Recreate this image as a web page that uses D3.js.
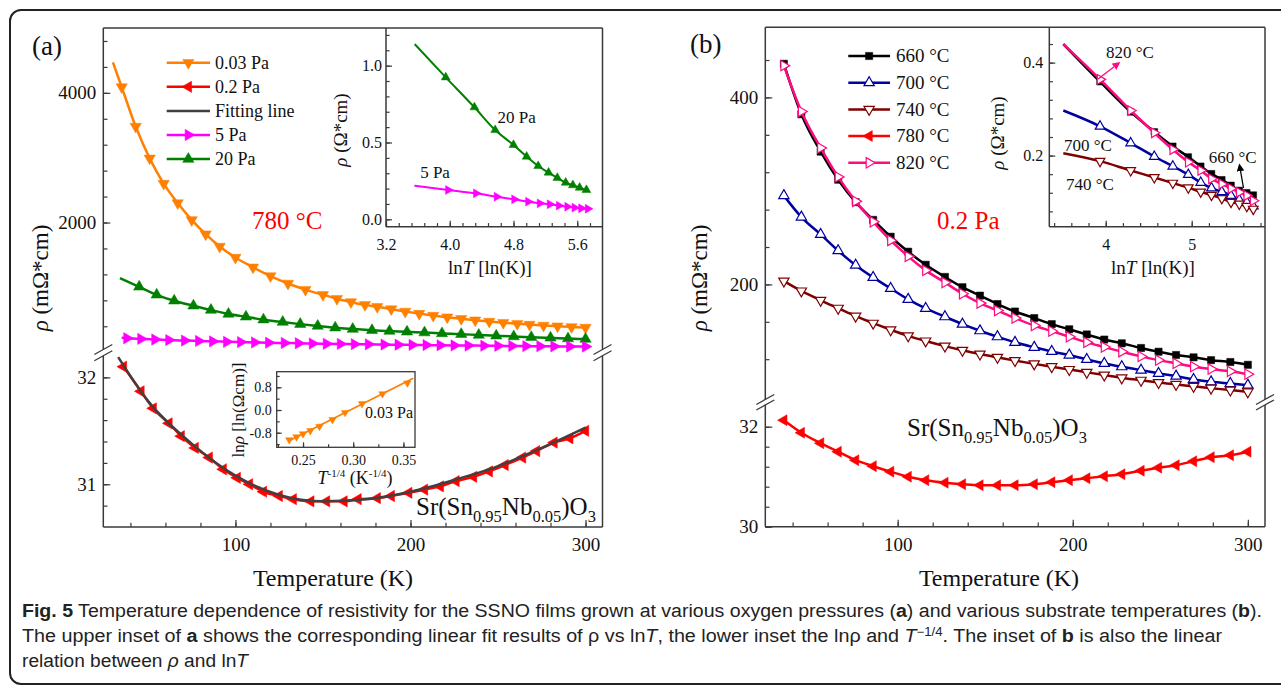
<!DOCTYPE html>
<html>
<head>
<meta charset="utf-8">
<style>
  body { margin: 0; background: #fff; }
  svg text { font-family: "Liberation Serif", "Times New Roman", serif; fill: #111; }
  svg text.cap { font-family: "Liberation Sans Narrow", "Liberation Sans", "Roboto", sans-serif; font-stretch: condensed; fill: #222; }
</style>
<script src="https://cdn.jsdelivr.net/npm/d3@7"></script>
</head>
<body>
<script>
// ---------- panel (a): rho (mOhm*cm) vs T (K) at various O2 pressures ----------
// first point of 0.03 / 5 / 20 Pa is where the line starts (no symbol there)
const tA003 = [30, 35, 43, 51, 59, 67, 75, 83, 91, 100, 110, 120, 130, 140, 150, 158, 166, 174, 181, 189, 197, 205, 213, 221, 229, 237, 245, 253, 261, 268, 276, 284, 292, 300];
const rhoA003 = [4470, 4090, 3480, 2990, 2600, 2300, 2040, 1820, 1630, 1460, 1310, 1175, 1060, 965, 885, 825, 775, 730, 700, 665, 628, 595, 565, 540, 515, 493, 473, 455, 440, 426, 413, 401, 390, 380];
const tA02 = [36, 46, 53, 62, 69, 77, 85, 93, 101, 108, 116, 125, 133, 143, 152, 162, 170, 181, 189, 199, 208, 217, 226, 236, 245, 254, 264, 272, 282, 291, 300];
const rhoA02 = [32.10, 31.87, 31.71, 31.57, 31.45, 31.34, 31.25, 31.14, 31.06, 31.00, 30.93, 30.89, 30.86, 30.84, 30.84, 30.84, 30.86, 30.87, 30.89, 30.92, 30.95, 30.98, 31.03, 31.07, 31.12, 31.18, 31.25, 31.31, 31.39, 31.43, 31.50];
const tFit = [33, 50, 75, 100, 125, 150, 175, 200, 225, 250, 275, 300];
const rhoFit = [32.19, 31.78, 31.38, 31.08, 30.90, 30.84, 30.86, 30.93, 31.04, 31.17, 31.34, 31.53];
const tA5 = [35, 38, 46, 54, 62, 71, 79, 87, 95, 103, 111, 119, 128, 136, 144, 152, 160, 168, 176, 185, 193, 201, 209, 217, 225, 233, 242, 250, 258, 266, 274, 282, 291, 300];
const rhoA5 = [222, 215, 205, 196, 188, 180, 173, 167, 161, 156, 151, 146, 142, 138, 134, 130, 127, 124, 121, 118, 115, 112, 110, 107, 105, 103, 100, 98, 96, 94, 92, 90, 88, 86];
const tA20 = [34, 45, 55, 65, 76, 86, 96, 106, 116, 127, 137, 147, 157, 167, 178, 188, 198, 208, 218, 229, 239, 249, 259, 269, 280, 290, 300];
const rhoA20 = [1143, 1008, 885, 793, 716, 650, 590, 546, 502, 465, 433, 404, 378, 356, 338, 326, 314, 302, 290, 278, 265, 253, 242, 232, 221, 211, 202];

// upper inset of (a): rho (Ohm*cm) vs lnT
const lnTa20 = [3.56, 3.95, 4.31, 4.57, 4.80, 4.965, 5.11, 5.24, 5.35, 5.455, 5.545, 5.63, 5.715];
const rhoIa20 = [1.14, 0.924, 0.729, 0.581, 0.484, 0.408, 0.347, 0.304, 0.270, 0.239, 0.222, 0.206, 0.191];
const lnTa5 = [3.556, 3.98, 4.33, 4.59, 4.81, 4.985, 5.13, 5.256, 5.37, 5.476, 5.567, 5.65, 5.733];
const rhoIa5 = [0.219, 0.191, 0.169, 0.147, 0.130, 0.115, 0.104, 0.098, 0.089, 0.082, 0.076, 0.072, 0.069];

// lower inset of (a): ln(rho) vs T^-1/4, 0.03 Pa
const invT = [0.2363, 0.2435, 0.25, 0.2573, 0.2664, 0.2794, 0.2919, 0.3088, 0.3291, 0.3539];
const lnRho = [-1.05, -0.95, -0.84, -0.73, -0.58, -0.34, -0.09, 0.22, 0.57, 0.95];
const invTFit = [0.2353, 0.3598];
const lnRhoFit = [-1.10, 1.12];

// ---------- panel (b): rho vs T at various substrate temperatures, 0.2 Pa ----------
const tB = [35, 45, 56, 66, 76, 86, 96, 106, 116, 127, 137, 147, 157, 167, 178, 188, 198, 208, 218, 228, 239, 249, 259, 269, 279, 290, 300];
const rho660 = [436, 382, 342, 312, 288, 269, 251, 235, 221, 208, 197, 188, 179, 171, 164, 157.5, 152, 146.5, 141, 137, 132, 128, 124.5, 122, 119, 117, 114];
const rho700 = [295, 272, 253.5, 236, 220.6, 207.5, 195.7, 184, 174.3, 165.4, 157.5, 150.4, 144, 138, 132.7, 128.3, 124.4, 119.8, 115.5, 111.9, 108.3, 104.8, 101.9, 98.4, 95.8, 94, 92.3];
const rho740 = [203.6, 193, 183, 174.5, 166, 158.5, 151.5, 145, 139.5, 134, 129.5, 125.5, 122, 118.5, 115, 112, 109, 106, 103, 100, 97.5, 95, 93, 91, 89, 87, 85];
const rho780 = [32.13, 31.88, 31.67, 31.50, 31.33, 31.21, 31.10, 31.00, 30.93, 30.88, 30.85, 30.83, 30.83, 30.83, 30.85, 30.89, 30.93, 30.97, 31.01, 31.05, 31.12, 31.18, 31.23, 31.31, 31.39, 31.43, 31.50];
const rho820 = [434, 385, 346, 315, 289, 267, 247, 230, 215, 202, 190, 180, 172, 164, 156, 150, 144, 138, 133, 128, 123, 119, 115.5, 112, 109.5, 107, 104];

// inset of (b): rho (Ohm*cm) vs lnT, first point = line start
const lnTb = [3.507, 3.934, 4.29, 4.565, 4.78, 4.96, 5.105, 5.23, 5.35, 5.457, 5.553, 5.64, 5.716];
const rhoIb660 = [0.440, 0.359, 0.294, 0.251, 0.220, 0.197, 0.177, 0.161, 0.148, 0.136, 0.125, 0.120, 0.115];
const rhoIb700 = [0.297, 0.263, 0.227, 0.198, 0.177, 0.159, 0.142, 0.130, 0.122, 0.114, 0.105, 0.100, 0.091];
const rhoIb740 = [0.205, 0.188, 0.168, 0.153, 0.141, 0.131, 0.122, 0.115, 0.108, 0.100, 0.096, 0.091, 0.085];
const rhoIb820 = [0.440, 0.364, 0.297, 0.249, 0.213, 0.186, 0.168, 0.150, 0.139, 0.129, 0.121, 0.114, 0.103];

// tick labels
const tickX = [100, 200, 300];
const tickAup = [2000, 4000], tickAlo = [31, 32];
const tickBup = [200, 400], tickBlo = [30, 32];
const tickIAx = [3.2, 4.0, 4.8, 5.6], tickIAy = [0.0, 0.5, 1.0];
const tickIA2x = [0.25, 0.30, 0.35], tickIA2y = [-0.8, 0.0, 0.8];
const tickIBx = [4, 5], tickIBy = [0.2, 0.4];

const C = { orange: "#ff8000", red: "#ff0000", fit: "#404040", magenta: "#ff00ff", green: "#008000",
            black: "#000000", blue: "#0000a0", brown: "#800000", pink: "#ff0a80" };
const ink = "#3a3a3a";

const svg = d3.select("body").append("svg").attr("width", 1281).attr("height", 687);

// outer figure frame
svg.append("rect").attr("x", 10).attr("y", 10).attr("width", 1300).attr("height", 674).attr("rx", 11)
    .attr("fill", "none").attr("stroke", "#222").attr("stroke-width", 2);

const defs = svg.append("defs");
function arrowDef(id, color) {
    defs.append("marker").attr("id", id).attr("viewBox", "0 0 10 10").attr("refX", 8).attr("refY", 5)
        .attr("markerWidth", 6).attr("markerHeight", 6).attr("orient", "auto")
        .append("path").attr("d", "M0,0 L10,5 L0,10 z").attr("fill", color);
}
arrowDef("arPink", C.pink);
arrowDef("arBlack", "#000");

// ---------- helpers ----------
const shapes = {
    up: [d3.symbolTriangle, 0], down: [d3.symbolTriangle, 180],
    left: [d3.symbolTriangle, -90], right: [d3.symbolTriangle, 90],
    square: [d3.symbolSquare, 0]
};
function drawMarks(g, pts, s) {
    const [type, rot] = shapes[s.shape];
    g.selectAll(null).data(pts).enter().append("path")
        .attr("d", d3.symbol().type(type).size(s.size))
        .attr("transform", d => `translate(${d[0]},${d[1]}) rotate(${rot})`)
        .attr("fill", s.open ? "#fff" : s.color)
        .attr("stroke", s.color).attr("stroke-width", s.open ? 1.2 : 0.5);
}
function drawSeries(g, xs, ys, sx, sy, s) {
    const pts = xs.map((v, i) => [sx(v), sy(ys[i])]);
    g.append("path").attr("d", d3.line().curve(d3.curveMonotoneX)(pts))
        .attr("fill", "none").attr("stroke", s.color).attr("stroke-width", s.width || 2.5)
        .attr("stroke-linejoin", "round");
    if (s.shape) drawMarks(g, pts.slice(s.skip || 0), s);
}
function line(g, x1, y1, x2, y2, w) {
    g.append("line").attr("x1", x1).attr("y1", y1).attr("x2", x2).attr("y2", y2)
        .attr("stroke", ink).attr("stroke-width", w || 1.5);
}
function styleAxis(sel, fs) {
    sel.select(".domain").remove();
    sel.selectAll(".tick line").attr("stroke", ink).attr("stroke-width", 1.2);
    sel.selectAll(".tick text").style("font-size", fs + "px");
}
function yTicks(g, sc, x, major, minor, fmt, fs, pad, len) {
    g.append("g").attr("transform", `translate(${x},0)`)
        .call(d3.axisLeft(sc).tickValues(minor).tickSize(-len * 0.6).tickFormat(""))
        .call(s => styleAxis(s, fs));
    g.append("g").attr("transform", `translate(${x},0)`)
        .call(d3.axisLeft(sc).tickValues(major).tickSize(-len).tickPadding(pad).tickFormat(fmt))
        .call(s => styleAxis(s, fs));
}
function xTicks(g, sc, y, major, minor, fmt, fs, pad, len) {
    g.append("g").attr("transform", `translate(0,${y})`)
        .call(d3.axisBottom(sc).tickValues(minor).tickSize(-len * 0.6).tickFormat(""))
        .call(s => styleAxis(s, fs));
    g.append("g").attr("transform", `translate(0,${y})`)
        .call(d3.axisBottom(sc).tickValues(major).tickSize(-len).tickPadding(pad).tickFormat(fmt))
        .call(s => styleAxis(s, fs));
}
function slash(g, x, y) {
    g.append("line").attr("x1", x - 9).attr("y1", y + 5).attr("x2", x + 9).attr("y2", y - 5)
        .attr("stroke", ink).attr("stroke-width", 1.3);
}
function text(g, x, y, str, fs, opt) {
    opt = opt || {};
    return g.append("text").attr("x", x).attr("y", y).text(str)
        .style("font-size", fs + "px").attr("text-anchor", opt.anchor || "start")
        .style("fill", opt.color || "#111");
}
function rhoLabel(g, x, y, unit, fs) {
    const t = g.append("text").attr("transform", `translate(${x},${y}) rotate(-90)`)
        .attr("text-anchor", "middle").style("font-size", fs + "px");
    t.append("tspan").style("font-style", "italic").text("ρ");
    t.append("tspan").text(" (" + unit + ")");
}
function lnTLabel(g, x, y, fs) {
    const t = g.append("text").attr("x", x).attr("y", y).attr("text-anchor", "middle").style("font-size", fs + "px");
    t.append("tspan").text("ln");
    t.append("tspan").style("font-style", "italic").text("T");
    t.append("tspan").text(" [ln(K)]");
}
function formula(g, x, y, fs) {
    const t = g.append("text").attr("x", x).attr("y", y).style("font-size", fs + "px");
    const sh = fs * 0.28;
    let down = false;
    [["Sr(Sn", 0], ["0.95", 1], ["Nb", 0], ["0.05", 1], [")O", 0], ["3", 1]].forEach(([s, sub]) => {
        const ts = t.append("tspan").text(s);
        if (sub) { ts.attr("dy", sh).style("font-size", (fs * 0.66) + "px"); down = true; }
        else if (down) { ts.attr("dy", -sh); down = false; }
    });
}
function legend(g, items, x0, x1, xt, y0, dy, fs) {
    items.forEach((it, i) => {
        const y = y0 + i * dy;
        g.append("line").attr("x1", x0).attr("x2", x1).attr("y1", y).attr("y2", y)
            .attr("stroke", it.color).attr("stroke-width", 2.5);
        if (it.shape) drawMarks(g, [[(x0 + x1) / 2, y]], it);
        text(g, xt, y + fs * 0.33, it.label, fs);
    });
}
const f0 = d => d3.format("d")(d);
const f1 = d => d.toFixed(1);
const f2 = d => d.toFixed(2);

// ================= panel (a) =================
const gA = svg.append("g");
const xA = d3.scaleLinear().domain([24.5, 309.7]).range([103.3, 602.5]);
const yAup = d3.scaleLinear().domain([0, 5000]).range([352.2, 28]);
const yAlo = d3.scaleLinear().domain([30.6, 32.2]).range([527, 356]);
const A = { l: 103.3, r: 602.5, t: 28, b: 527, b1: 349.5, b2: 355.7 };

// frame
line(gA, A.l, A.t, A.r, A.t);
line(gA, A.l, A.b, A.r, A.b);
line(gA, A.l, A.t, A.l, A.b1); line(gA, A.l, A.b2, A.l, A.b);
line(gA, A.r, A.t, A.r, A.b1); line(gA, A.r, A.b2, A.r, A.b);
[A.l, A.r].forEach(x => { slash(gA, x, A.b1); slash(gA, x, A.b2); });

yTicks(gA, yAup, A.l, tickAup, d3.range(400, 5000, 400), f0, 19, 7, 7);
yTicks(gA, yAlo, A.l, tickAlo, d3.range(30.8, 32.1, 0.2), f0, 19, 7, 7);
xTicks(gA, xA, A.b, tickX, d3.range(40, 301, 20), f0, 19, 10.5, 7);

// inset upper-right (rho vs lnT)
const xIa = d3.scaleLinear().domain([3.2, 5.917]).range([386, 602.5]);
const yIa = d3.scaleLinear().domain([-0.048, 1.245]).range([226.7, 28]);
line(gA, 386, 28, 386, 226.7);
line(gA, 386, 226.7, 602.5, 226.7);
yTicks(gA, yIa, 386, tickIAy, d3.range(0, 1.21, 0.1), f1, 16, 4, 6);
xTicks(gA, xIa, 226.7, tickIAx, d3.range(3.2, 5.9, 0.16), f1, 16, 12, 6);

// main curves (a)
drawSeries(gA, tA003, rhoA003, xA, yAup, { color: C.orange, shape: "down", size: 55, skip: 1 });
drawSeries(gA, tA20, rhoA20, xA, yAup, { color: C.green, shape: "up", size: 55, skip: 1 });
drawSeries(gA, tA5, rhoA5, xA, yAup, { color: C.magenta, shape: "right", size: 55, skip: 1 });
drawSeries(gA, tA02, rhoA02, xA, yAlo, { color: C.red, shape: "left", size: 55 });
drawSeries(gA, tFit, rhoFit, xA, yAlo, { color: C.fit, width: 2.5 });

// inset curves
drawSeries(gA, lnTa20, rhoIa20, xIa, yIa, { color: C.green, shape: "up", size: 34, skip: 1, width: 2 });
drawSeries(gA, lnTa5, rhoIa5, xIa, yIa, { color: C.magenta, shape: "right", size: 34, skip: 1, width: 2 });
text(gA, 516.7, 122.5, "20 Pa", 17, { anchor: "middle" });
text(gA, 435, 177.5, "5 Pa", 17, { anchor: "middle" });
rhoLabel(gA, 347, 130, "Ω*cm", 19);
lnTLabel(gA, 490, 274, 19);

// inset lower (ln rho vs T^-1/4)
const xIa2 = d3.scaleLinear().domain([0.2238, 0.3615]).range([276.7, 415]);
const yIa2 = d3.scaleLinear().domain([-1.314, 1.35]).range([447.3, 371.7]);
gA.append("rect").attr("x", 276.7).attr("y", 371.7).attr("width", 138.3).attr("height", 75.6)
    .attr("fill", "none").attr("stroke", ink).attr("stroke-width", 1.3);
yTicks(gA, yIa2, 276.7, tickIA2y, d3.range(-1.2, 1.3, 0.4), f1, 14, 5, 5);
xTicks(gA, xIa2, 447.3, tickIA2x, d3.range(0.225, 0.36, 0.025), f2, 14, 7.8, 5);
drawSeries(gA, invTFit, lnRhoFit, xIa2, yIa2, { color: C.orange, width: 1.8 });
drawMarks(gA, invT.map((v, i) => [xIa2(v), yIa2(lnRho[i])]), { color: C.orange, shape: "down", size: 24 });
text(gA, 413, 418, "0.03 Pa", 16, { anchor: "end" });
{
    const t = gA.append("text").attr("transform", "translate(244,410) rotate(-90)")
        .attr("text-anchor", "middle").style("font-size", "17px");
    t.append("tspan").text("ln");
    t.append("tspan").style("font-style", "italic").text("ρ");
    t.append("tspan").text(" [ln(Ωcm)]");
    const u = gA.append("text").attr("x", 355).attr("y", 484).attr("text-anchor", "middle").style("font-size", "18px");
    u.append("tspan").style("font-style", "italic").text("T");
    u.append("tspan").attr("dy", -7).style("font-size", "11px").text("-1/4");
    u.append("tspan").attr("dy", 7).text(" (K");
    u.append("tspan").attr("dy", -7).style("font-size", "11px").text("-1/4");
    u.append("tspan").attr("dy", 7).text(")");
}

// legend (a)
legend(gA, [
    { label: "0.03 Pa", color: C.orange, shape: "down", size: 55 },
    { label: "0.2 Pa", color: C.red, shape: "left", size: 55 },
    { label: "Fitting line", color: C.fit },
    { label: "5 Pa", color: C.magenta, shape: "right", size: 55 },
    { label: "20 Pa", color: C.green, shape: "up", size: 55 }
], 166.7, 210, 215, 62.7, 24.1, 18);

text(gA, 252, 229, "780 °C", 25, { color: "#ff0000" });
formula(gA, 416, 515, 25);
text(gA, 32, 55, "(a)", 27);
rhoLabel(gA, 48, 278, "mΩ*cm", 23);
text(gA, 333, 586, "Temperature (K)", 24, { anchor: "middle" });

// ================= panel (b) =================
const gB = svg.append("g");
const xB = d3.scaleLinear().domain([24.4, 309.8]).range([765.3, 1265]);
const yBup = d3.scaleLinear().domain([80, 475]).range([396.6, 27.3]);
const yBlo = d3.scaleLinear().domain([30, 32.5]).range([526.7, 401.7]);
const B = { l: 765.3, r: 1265, t: 27.3, b: 526.7, b1: 399.5, b2: 405 };

line(gB, B.l, B.t, B.r, B.t);
line(gB, B.l, B.b, B.r, B.b);
line(gB, B.l, B.t, B.l, B.b1); line(gB, B.l, B.b2, B.l, B.b);
line(gB, B.r, B.t, B.r, B.b1); line(gB, B.r, B.b2, B.r, B.b);
[B.l, B.r].forEach(x => { slash(gB, x, B.b1); slash(gB, x, B.b2); });

yTicks(gB, yBup, B.l, tickBup, d3.range(120, 460, 40), f0, 19, 7, 7);
yTicks(gB, yBlo, B.l, tickBlo, d3.range(30, 32.1, 0.4), f0, 19, 7, 7);
xTicks(gB, xB, B.b, tickX, d3.range(40, 301, 20), f0, 19, 10.5, 7);

// inset (b)
const xIb = d3.scaleLinear().domain([3.344, 5.852]).range([1049.3, 1265]);
const yIb = d3.scaleLinear().domain([0.047, 0.476]).range([226.7, 27.3]);
line(gB, 1049.3, 27.3, 1049.3, 226.7);
line(gB, 1049.3, 226.7, 1265, 226.7);
yTicks(gB, yIb, 1049.3, tickIBy, d3.range(0.08, 0.45, 0.04), f1, 16, 6, 6);
xTicks(gB, xIb, 226.7, tickIBx, d3.range(3.4, 5.81, 0.2), f0, 16, 12, 6);

// main curves (b)
drawSeries(gB, tB, rho660, xB, yBup, { color: C.black, shape: "square", size: 52 });
drawSeries(gB, tB, rho700, xB, yBup, { color: C.blue, shape: "up", size: 46, open: true });
drawSeries(gB, tB, rho740, xB, yBup, { color: C.brown, shape: "down", size: 46, open: true });
drawSeries(gB, tB, rho780, xB, yBlo, { color: C.red, shape: "left", size: 52 });
drawSeries(gB, tB, rho820, xB, yBup, { color: C.pink, shape: "right", size: 46, open: true });

// inset curves (b)
drawSeries(gB, lnTb, rhoIb660, xIb, yIb, { color: C.black, shape: "square", size: 44, skip: 1 });
drawSeries(gB, lnTb, rhoIb700, xIb, yIb, { color: C.blue, shape: "up", size: 40, open: true, skip: 1 });
drawSeries(gB, lnTb, rhoIb740, xIb, yIb, { color: C.brown, shape: "down", size: 40, open: true, skip: 1 });
drawSeries(gB, lnTb, rhoIb820, xIb, yIb, { color: C.pink, shape: "right", size: 40, open: true, skip: 1 });

text(gB, 1130, 57.5, "820 °C", 17, { anchor: "middle" });
text(gB, 1088, 151, "700 °C", 17, { anchor: "middle" });
text(gB, 1090, 189.5, "740 °C", 17, { anchor: "middle" });
text(gB, 1232.7, 163, "660 °C", 17, { anchor: "middle" });
gB.append("line").attr("x1", 1098).attr("y1", 79).attr("x2", 1119).attr("y2", 63)
    .attr("stroke", C.pink).attr("stroke-width", 1.3).attr("marker-end", "url(#arPink)");
gB.append("line").attr("x1", 1243.5).attr("y1", 188).attr("x2", 1239.5).attr("y2", 165)
    .attr("stroke", "#000").attr("stroke-width", 1.3).attr("marker-end", "url(#arBlack)");
rhoLabel(gB, 1004, 133, "Ω*cm", 19);
lnTLabel(gB, 1153, 274, 19);

legend(gB, [
    { label: "660 °C", color: C.black, shape: "square", size: 52 },
    { label: "700 °C", color: C.blue, shape: "up", size: 46, open: true },
    { label: "740 °C", color: C.brown, shape: "down", size: 46, open: true },
    { label: "780 °C", color: C.red, shape: "left", size: 52 },
    { label: "820 °C", color: C.pink, shape: "right", size: 46, open: true }
], 848.3, 890, 896, 56, 26.7, 19);

text(gB, 937, 229, "0.2 Pa", 25, { color: "#ff0000" });
formula(gB, 907, 436, 25);
text(gB, 690, 53, "(b)", 27);
rhoLabel(gB, 707, 278, "mΩ*cm", 23);
text(gB, 999, 586, "Temperature (K)", 24, { anchor: "middle" });

// ================= caption =================
const cap = svg.append("g");
function capLine(y, parts, width) {
    const t = cap.append("text").attr("class", "cap").attr("x", 22).attr("y", y).style("font-size", "18px");
    parts.forEach(p => {
        const ts = t.append("tspan").text(p[0]);
        if (p[1] === "b") ts.style("font-weight", "bold");
        if (p[1] === "i") ts.style("font-style", "italic");
        if (p[1] === "sup") ts.attr("dy", -6).style("font-size", "12px");
        if (p[1] === "down") ts.attr("dy", 6);
    });
    if (width) t.attr("textLength", width).attr("lengthAdjust", "spacingAndGlyphs");
}
capLine(617, [["Fig. 5", "b"], [" Temperature dependence of resistivity for the SSNO films grown at various oxygen pressures ("], ["a", "b"], [") and various substrate temperatures ("], ["b", "b"], [")."]], 1240);
capLine(642, [["The upper inset of "], ["a", "b"], [" shows the corresponding linear fit results of ρ vs ln"], ["T", "i"], [", the lower inset the lnρ and "], ["T", "i"], ["−1/4", "sup"], [". The inset of ", "down"], ["b", "b"], [" is also the linear"]], 1200);
capLine(667, [["relation between "], ["ρ", "i"], [" and ln"], ["T", "i"]], 226);
</script>
</body>
</html>
